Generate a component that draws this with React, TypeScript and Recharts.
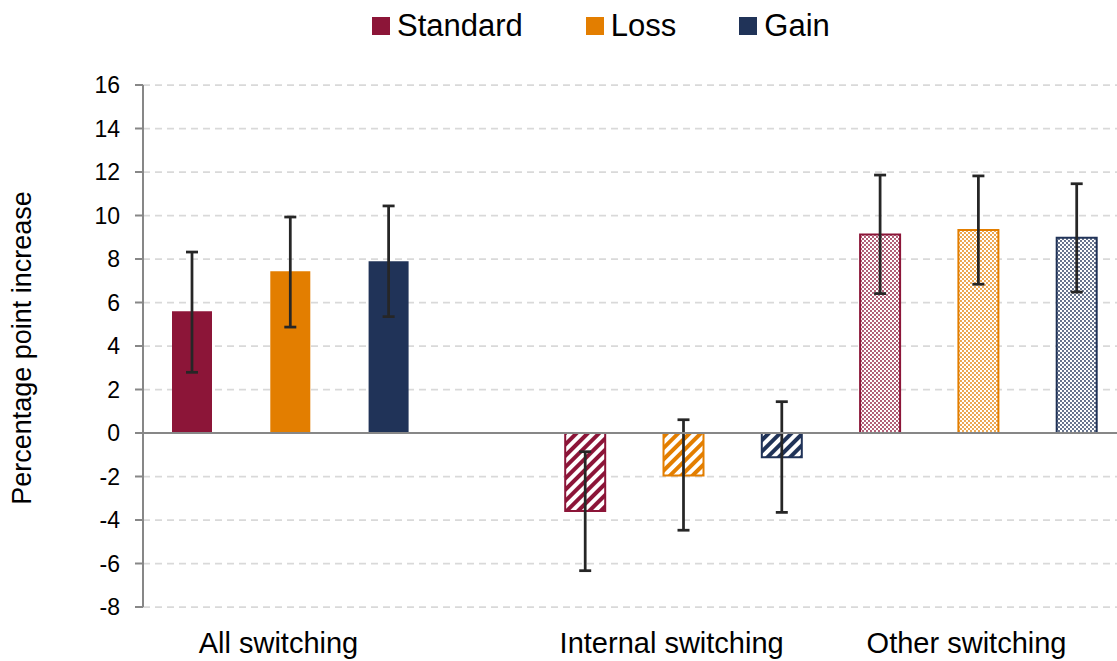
import {
  BarChart,
  Bar,
  XAxis,
  YAxis,
  CartesianGrid,
  ReferenceLine,
  ErrorBar,
  Cell,
  Label,
} from "recharts";

const groups = ["All switching", "Internal switching", "Other switching"];
const seriesNames = ["Standard", "Loss", "Gain"];
const seriesColors = ["#8c1538", "#e37e00", "#203358"];
const groupFills = ["solid", "stripes", "dots"];

// bar heights, one per group
const standardValues = [5.6, -3.59, 9.13];
const lossValues = [7.44, -1.95, 9.33];
const gainValues = [7.9, -1.12, 8.98];

// confidence interval bounds
const standardLow = [2.79, -6.33, 6.41];
const standardHigh = [8.32, -0.86, 11.86];
const lossLow = [4.87, -4.47, 6.84];
const lossHigh = [9.93, 0.61, 11.82];
const gainLow = [5.35, -3.65, 6.48];
const gainHigh = [10.44, 1.44, 11.46];

const yTicks = [-8, -6, -4, -2, 0, 2, 4, 6, 8, 10, 12, 14, 16];

const seriesValues = [standardValues, lossValues, gainValues];
const seriesLow = [standardLow, lossLow, gainLow];
const seriesHigh = [standardHigh, lossHigh, gainHigh];

type Row = {
  id: string;
  label: string;
  value: number | null;
  err?: [number, number];
  s: number;
  g: number;
};

const rows: Row[] = [];
groups.forEach((group, g) => {
  seriesNames.forEach((name, s) => {
    const v = seriesValues[s][g];
    rows.push({
      id: `${group} ${name}`,
      label: s === 1 ? group : "",
      value: v,
      err: [v - seriesLow[s][g], seriesHigh[s][g] - v],
      s,
      g,
    });
  });
  // empty slot between the first group and the rest
  if (g === 0) rows.push({ id: "spacer", label: "", value: null, s: -1, g: -1 });
});

const font = "'Liberation Sans', Arial, sans-serif";
const axisGray = "#878787";

const fillFor = (r: Row) => {
  if (r.s < 0) return "none";
  const type = groupFills[r.g];
  return type === "solid" ? seriesColors[r.s] : `url(#${type}-${r.s})`;
};

const CategoryTick = (props: any) => {
  const { x, payload } = props;
  const row = rows[payload.index];
  if (!row || !row.label) return <g />;
  return (
    <text
      x={x - 12}
      y={653}
      textAnchor="middle"
      fontSize={29}
      fontFamily={font}
      fill="#000"
    >
      {row.label}
    </text>
  );
};

export default function App() {
  return (
    <div
      style={{
        position: "absolute",
        top: 0,
        left: 0,
        width: 1117,
        height: 661,
        overflow: "hidden",
        background: "#fff",
        fontFamily: font,
      }}
    >
      <div
        style={{
          position: "absolute",
          top: 8,
          left: 372,
          height: 36,
          display: "flex",
          alignItems: "center",
          zIndex: 2,
        }}
      >
        {seriesNames.map((name, i) => (
          <div
            key={name}
            style={{
              display: "flex",
              alignItems: "center",
              marginRight: i < seriesNames.length - 1 ? 63 : 0,
            }}
          >
            <span
              style={{
                width: 18,
                height: 18,
                background: seriesColors[i],
                marginRight: 7,
              }}
            />
            <span style={{ fontSize: 31, lineHeight: "36px", color: "#000" }}>
              {name}
            </span>
          </div>
        ))}
      </div>
      <BarChart
        width={1126}
        height={661}
        data={rows}
        margin={{ top: 85, right: 0, bottom: 0, left: 0 }}
        barSize={40}
      >
        <defs>
          {seriesColors.map((c, i) => (
            <pattern
              key={`st-${i}`}
              id={`stripes-${i}`}
              patternUnits="userSpaceOnUse"
              width={8}
              height={8}
              patternTransform="rotate(45)"
            >
              <rect width={8} height={8} fill="#fff" />
              <rect width={4} height={8} fill={c} />
            </pattern>
          ))}
          {seriesColors.map((c, i) => (
            <pattern
              key={`dt-${i}`}
              id={`dots-${i}`}
              patternUnits="userSpaceOnUse"
              width={4}
              height={4}
            >
              <rect width={4} height={4} fill="#fff" />
              <circle cx={1} cy={1} r={0.9} fill={c} />
              <circle cx={3} cy={3} r={0.9} fill={c} />
            </pattern>
          ))}
        </defs>
        <CartesianGrid
          vertical={false}
          stroke="#d9d9d9"
          strokeWidth={1.75}
          strokeDasharray="7 5"
        />
        <XAxis
          dataKey="id"
          type="category"
          height={54}
          interval={0}
          axisLine={false}
          tickLine={false}
          tick={CategoryTick}
        />
        <YAxis
          type="number"
          domain={[-8, 16]}
          ticks={yTicks}
          width={143}
          interval={0}
          axisLine={{ stroke: axisGray, strokeWidth: 2 }}
          tickLine={{ stroke: axisGray, strokeWidth: 2 }}
          tickSize={8}
          tickMargin={15}
          tick={{ fill: "#000", fontSize: 23, fontFamily: font }}
        >
          <Label
            content={() => (
              <text
                x={22}
                y={348}
                transform="rotate(-90 22 348)"
                textAnchor="middle"
                dominantBaseline="central"
                fontSize={27}
                fontFamily={font}
                fill="#000"
              >
                Percentage point increase
              </text>
            )}
          />
        </YAxis>
        <Bar dataKey="value" isAnimationActive={false}>
          {rows.map((r) => (
            <Cell
              key={r.id}
              fill={fillFor(r)}
              stroke={r.g > 0 ? seriesColors[r.s] : "none"}
              strokeWidth={r.g > 0 ? 2 : 0}
            />
          ))}
          <ErrorBar
            dataKey="err"
            direction="y"
            width={6}
            stroke="#262626"
            strokeWidth={2.75}
          />
        </Bar>
        <ReferenceLine y={0} stroke={axisGray} strokeWidth={2} />
      </BarChart>
    </div>
  );
}
